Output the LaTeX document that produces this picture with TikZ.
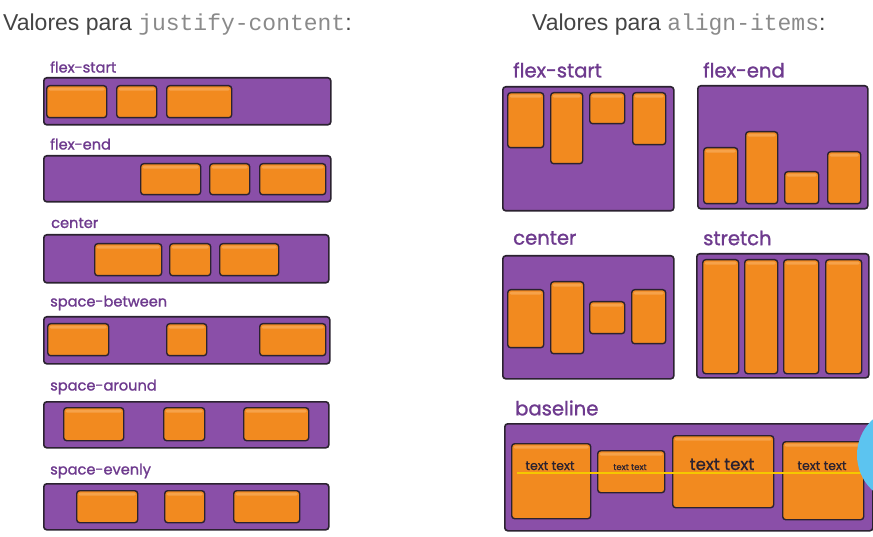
\documentclass[tikz,border=0pt]{standalone}
\usepackage{fontspec}
\setmainfont{Liberation Sans}
\newfontfamily\monof{Liberation Mono}
\newfontfamily\labf[FakeBold=1.2]{Poppins}
\newfontfamily\ttf[FakeBold=0.8]{Poppins}
\usetikzlibrary{positioning}
\definecolor{barfill}{HTML}{8A4FA8}
\definecolor{edgec}{HTML}{2B2230}
\definecolor{itemc}{HTML}{F28A1F}
\definecolor{itemlight}{HTML}{F6A24A}
\definecolor{labc}{HTML}{6E3A8E}
\definecolor{titc}{HTML}{444444}
\definecolor{monoc}{HTML}{8A8A8A}
\definecolor{ylw}{HTML}{F5C800}
\definecolor{bluec}{HTML}{5CC4F0}
\tikzset{
  bar/.style={fill=barfill, draw=edgec, line width=1.6pt, rounded corners=3pt, inner sep=0pt},
  itembox/.style={fill=itemc, draw=edgec, line width=1.4pt, rounded corners=3pt, inner sep=0pt,
    path picture={\fill[itemlight,rounded corners=2pt] ([xshift=2pt,yshift=-2pt]path picture bounding box.north west) rectangle ([xshift=-2pt,yshift=-5pt]path picture bounding box.north east);}},
  lab/.style={text=labc, font=\labf\fontsize{14.6}{16}\selectfont, anchor=west, inner sep=0pt},
  bigl/.style={text=labc, font=\labf\fontsize{19.6}{21}\selectfont, anchor=west, inner sep=0pt},
  title/.style={text=titc, font=\fontsize{23}{26}\selectfont, anchor=west, inner sep=0pt},
  tt/.style={text=edgec, font=\ttf\fontsize{#1}{#1}\selectfont, anchor=base, inner sep=0pt},
}
% \bx{name}{style}{x1}{y1}{x2}{y2}
\newcommand{\bx}[6]{\node[#2, anchor=north west, minimum width={(#5)-(#3)}, minimum height={(#6)-(#4)}] (#1) at (#3,#4) {};}
\begin{document}
\begin{tikzpicture}[x=1pt,y=-1pt]
\useasboundingbox (0,0) rectangle (873,537);
\fill[white] (0,0) rectangle (873,537);
% titles
\node[title] (t1) at (3,25) {Valores para {\monof\color{monoc}justify-content}:};
\node[title] (t2) at (532,25) {Valores para {\monof\color{monoc}align-items}:};

% ---------- left column ----------
\node[lab] (l1) at (50,67) {flex-start};
\bx{b1}{bar}{43}{77}{330}{124}
\bx{b1a}{itembox}{46}{85}{106}{117}
\bx{b1b}{itembox}{116}{85}{156}{117}
\bx{b1c}{itembox}{166}{85}{231}{117}

\node[lab] (l2) at (50,144) {flex-end};
\bx{b2}{bar}{43}{155}{330}{201}
\bx{b2a}{itembox}{140}{163}{200}{194}
\bx{b2b}{itembox}{209}{163}{249}{194}
\bx{b2c}{itembox}{259}{163}{325}{194}

\node[lab] (l3) at (51,223) {center};
\bx{b3}{bar}{43}{234}{328}{282}
\bx{b3a}{itembox}{94}{243}{161}{275}
\bx{b3b}{itembox}{169}{243}{210}{275}
\bx{b3c}{itembox}{219}{243}{278}{275}

\node[lab] (l4) at (50,303) {space-between};
\bx{b4}{bar}{43}{316}{329}{363}
\bx{b4a}{itembox}{47}{323}{108}{355}
\bx{b4b}{itembox}{166}{323}{206}{355}
\bx{b4c}{itembox}{259}{323}{325}{355}

\node[lab] (l5) at (50,387) {space-around};
\bx{b5}{bar}{43}{401}{328}{447}
\bx{b5a}{itembox}{63}{407}{123}{440}
\bx{b5b}{itembox}{163}{407}{204}{440}
\bx{b5c}{itembox}{243}{407}{308}{440}

\node[lab] (l6) at (50,471) {space-evenly};
\bx{b6}{bar}{43}{483}{328}{529}
\bx{b6a}{itembox}{76}{490}{137}{522}
\bx{b6b}{itembox}{164}{490}{204}{522}
\bx{b6c}{itembox}{233}{490}{299}{522}

% ---------- right column ----------
\node[bigl] (r1) at (513,70) {flex-start};
\bx{c1}{bar}{502}{86}{673}{210}
\bx{c1a}{itembox}{507}{92}{543}{147}
\bx{c1b}{itembox}{550}{92}{582}{163}
\bx{c1c}{itembox}{589}{92}{624}{123}
\bx{c1d}{itembox}{632}{92}{665}{144}

\node[bigl] (r2) at (703,70) {flex-end};
\bx{c2}{bar}{697}{85}{867}{208}
\bx{c2a}{itembox}{703}{147}{737}{203}
\bx{c2b}{itembox}{745}{131}{777}{203}
\bx{c2c}{itembox}{784}{171}{818}{203}
\bx{c2d}{itembox}{827}{151}{860}{203}

\node[bigl] (r3) at (513,238) {center};
\bx{c3}{bar}{502}{255}{673}{378}
\bx{c3a}{itembox}{507}{289}{543}{347}
\bx{c3b}{itembox}{550}{281}{583}{353}
\bx{c3c}{itembox}{589}{301}{624}{333}
\bx{c3d}{itembox}{631}{289}{665}{343}

\node[bigl] (r4) at (703,238) {stretch};
\bx{c4}{bar}{696}{253}{868}{377}
\bx{c4a}{itembox}{702}{259}{738}{373}
\bx{c4b}{itembox}{744}{259}{777}{373}
\bx{c4c}{itembox}{783}{259}{818}{373}
\bx{c4d}{itembox}{825}{259}{861}{373}

\node[bigl] (r5) at (515,408) {baseline};
\bx{c5}{bar}{504}{423}{872}{530}
\bx{c5a}{itembox}{511}{443}{590}{518}
\bx{c5b}{itembox}{597}{450}{664}{492}
\bx{c5c}{itembox}{672}{435}{773}{507}
\bx{c5d}{itembox}{782}{441}{863}{519}
\node[tt=12.5] (x1) at (550,470) {text text};
\node[tt=8.5] (x2) at (630,470) {text text};
\node[tt=16.5] (x3) at (722,470) {text text};
\node[tt=12.5] (x4) at (822,470) {text text};
\coordinate (yl1) at (517,473);
\coordinate (yl2) at (873,473);
\draw[ylw, line width=2.6pt] (yl1) -- (yl2);
% blue circle overlay at the right edge
\begin{scope}
\clip (0,0) rectangle (873,537);
\fill[bluec] (905,455) circle (48);
\end{scope}
\end{tikzpicture}
\end{document}
